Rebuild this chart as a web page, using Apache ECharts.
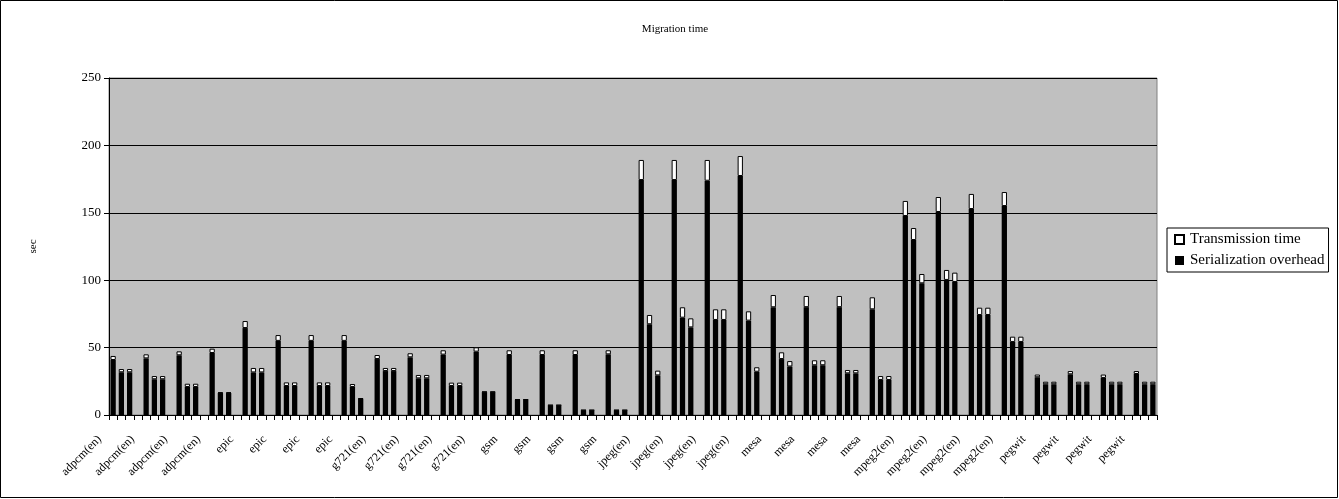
<!DOCTYPE html>
<html>
<head>
<meta charset="utf-8">
<script src="https://cdn.jsdelivr.net/npm/echarts@6/dist/echarts.min.js"></script>
<style>
  html, body { margin: 0; padding: 0; background: #fff; }
  #myChart { width: 1339px; height: 499px; }
</style>
</head>
<body>
<div id="myChart"></div>
<script>
// benchmark names, each one appears in 4 groups of 3 bars
const benchmarks = ['adpcm(en)', 'epic', 'g721(en)', 'gsm', 'jpeg(en)', 'mesa', 'mpeg2(en)', 'pegwit'];
const groupsPerBenchmark = 4;

// black part of each bar (3 bars per group, group after group)
const serialization = [
  40.8, 31.7, 31.7,   42.0, 26.5, 26.5,   44.3, 20.8, 20.8,   46.0, 16.3, 16.3,
  64.5, 31.6, 31.6,   55.0, 21.5, 21.5,   55.0, 21.5, 21.5,   55.0, 20.8, 12.0,
  41.5, 32.6, 32.6,   42.8, 27.2, 27.2,   44.8, 21.5, 21.5,   47.0, 17.0, 17.0,
  44.5, 11.3, 11.3,   44.5, 7.2, 7.2,     44.5, 3.5, 3.5,     45.0, 3.5, 3.5,
  174.3, 67.3, 29.4,  174.3, 72.2, 65.0,  173.8, 70.5, 70.5,  177.3, 70.0, 32.1,
  79.9, 41.5, 36.0,   80.0, 36.9, 36.9,   80.0, 30.9, 30.9,   78.4, 26.0, 26.0,
  147.6, 129.8, 97.7, 150.6, 100.2, 98.7, 152.8, 74.2, 74.2,  155.0, 54.2, 54.2,
  28.0, 22.8, 22.8,   30.2, 22.8, 22.8,   27.5, 22.8, 22.8,   30.4, 22.8, 22.8
];

// white part stacked on top
const transmission = [
  3.0, 2.4, 2.4,   3.0, 2.4, 2.4,   2.9, 2.4, 2.4,   3.2, 0.5, 0.5,
  5.2, 3.3, 3.3,   4.3, 2.7, 2.7,   4.3, 2.7, 2.7,   4.3, 2.2, 0.4,
  3.0, 2.3, 2.3,   3.0, 2.5, 2.5,   3.2, 2.5, 2.5,   3.2, 0.3, 0.3,
  3.5, 0.3, 0.3,   3.5, 0.2, 0.2,   3.5, 0.2, 0.2,   3.0, 0.2, 0.2,
  14.9, 6.9, 3.5,  14.9, 7.7, 6.7,  15.4, 7.9, 7.9,  14.8, 6.9, 3.3,
  9.1, 5.0, 4.0,   8.3, 3.7, 3.7,   8.3, 2.5, 2.5,   8.9, 2.9, 2.9,
  11.2, 8.9, 6.9,  11.1, 7.4, 6.9,  11.2, 5.4, 5.4,  10.4, 3.9, 3.9,
  2.0, 1.9, 1.9,   2.4, 1.9, 1.9,   2.5, 1.9, 1.9,   2.2, 1.9, 1.9
];

const yTicks = [0, 50, 100, 150, 200, 250];

// build categories with an empty slot between groups
const categories = [];
const serData = [];
const transData = [];
const groupCount = benchmarks.length * groupsPerBenchmark;
for (let g = 0; g < groupCount; g++) {
  const name = benchmarks[Math.floor(g / groupsPerBenchmark)];
  for (let b = 0; b < 3; b++) {
    categories.push(name);
    serData.push(serialization[g * 3 + b]);
    transData.push(transmission[g * 3 + b]);
  }
  if (g < groupCount - 1) {
    categories.push('');
    serData.push('-');
    transData.push('-');
  }
}

const font = 'Liberation Serif';
const myChart = echarts.init(document.getElementById('myChart'));

const option = {
  animation: false,
  backgroundColor: '#fff',
  textStyle: { fontFamily: font, color: '#000' },
  title: {
    text: 'Migration time',
    left: 670,
    textAlign: 'center',
    top: 19,
    textStyle: { fontFamily: font, fontSize: 11, fontWeight: 'normal', color: '#000' }
  },
  graphic: [{
    type: 'rect',
    shape: { x: 0.5, y: 0.5, width: 1337, height: 497 },
    style: { fill: 'none', stroke: '#000', lineWidth: 1 },
    silent: true
  }],
  legend: {
    orient: 'vertical',
    left: 1167,
    top: 228,
    data: ['Transmission time', 'Serialization overhead'],
    icon: 'rect',
    itemWidth: 9,
    itemHeight: 9,
    itemGap: 6,
    padding: [4, 4, 4, 7],
    borderColor: '#000',
    borderWidth: 1,
    textStyle: { fontFamily: font, fontSize: 15, color: '#000', padding: [0, 0, 0, 1] }
  },
  grid: {
    left: 109,
    right: 182,
    top: 78,
    bottom: 84,
    show: true,
    backgroundColor: '#C0C0C0',
    borderColor: '#808080',
    borderWidth: 1
  },
  xAxis: {
    type: 'category',
    data: categories,
    boundaryGap: true,
    axisLine: { lineStyle: { color: '#000', width: 1 } },
    axisTick: { show: true, interval: 0, length: 5, lineStyle: { color: '#000' } },
    axisLabel: {
      interval: 3,
      rotate: 45,
      margin: 9,
      padding: [0, 19, 0, 0],
      fontFamily: font,
      fontSize: 12,
      color: '#000'
    }
  },
  yAxis: {
    type: 'value',
    min: yTicks[0],
    max: yTicks[yTicks.length - 1],
    interval: 50,
    name: 'sec',
    nameLocation: 'middle',
    nameGap: 70,
    nameRotate: 90,
    nameTextStyle: { fontFamily: font, fontSize: 11, color: '#000' },
    axisLine: { show: true, lineStyle: { color: '#000', width: 1 } },
    axisTick: { show: true, length: 5, lineStyle: { color: '#000' } },
    axisLabel: { fontFamily: font, fontSize: 13, color: '#000', margin: 8 },
    splitLine: { show: true, lineStyle: { color: '#000', width: 1 } }
  },
  series: [
    {
      name: 'Serialization overhead',
      type: 'bar',
      stack: 'total',
      barWidth: '64%',
      data: serData,
      itemStyle: { color: '#000', borderColor: '#000', borderWidth: 0 }
    },
    {
      name: 'Transmission time',
      type: 'bar',
      stack: 'total',
      barWidth: '64%',
      data: transData,
      itemStyle: { color: '#fff', borderColor: '#000', borderWidth: 1 }
    }
  ]
};

myChart.setOption(option);
</script>
</body>
</html>
